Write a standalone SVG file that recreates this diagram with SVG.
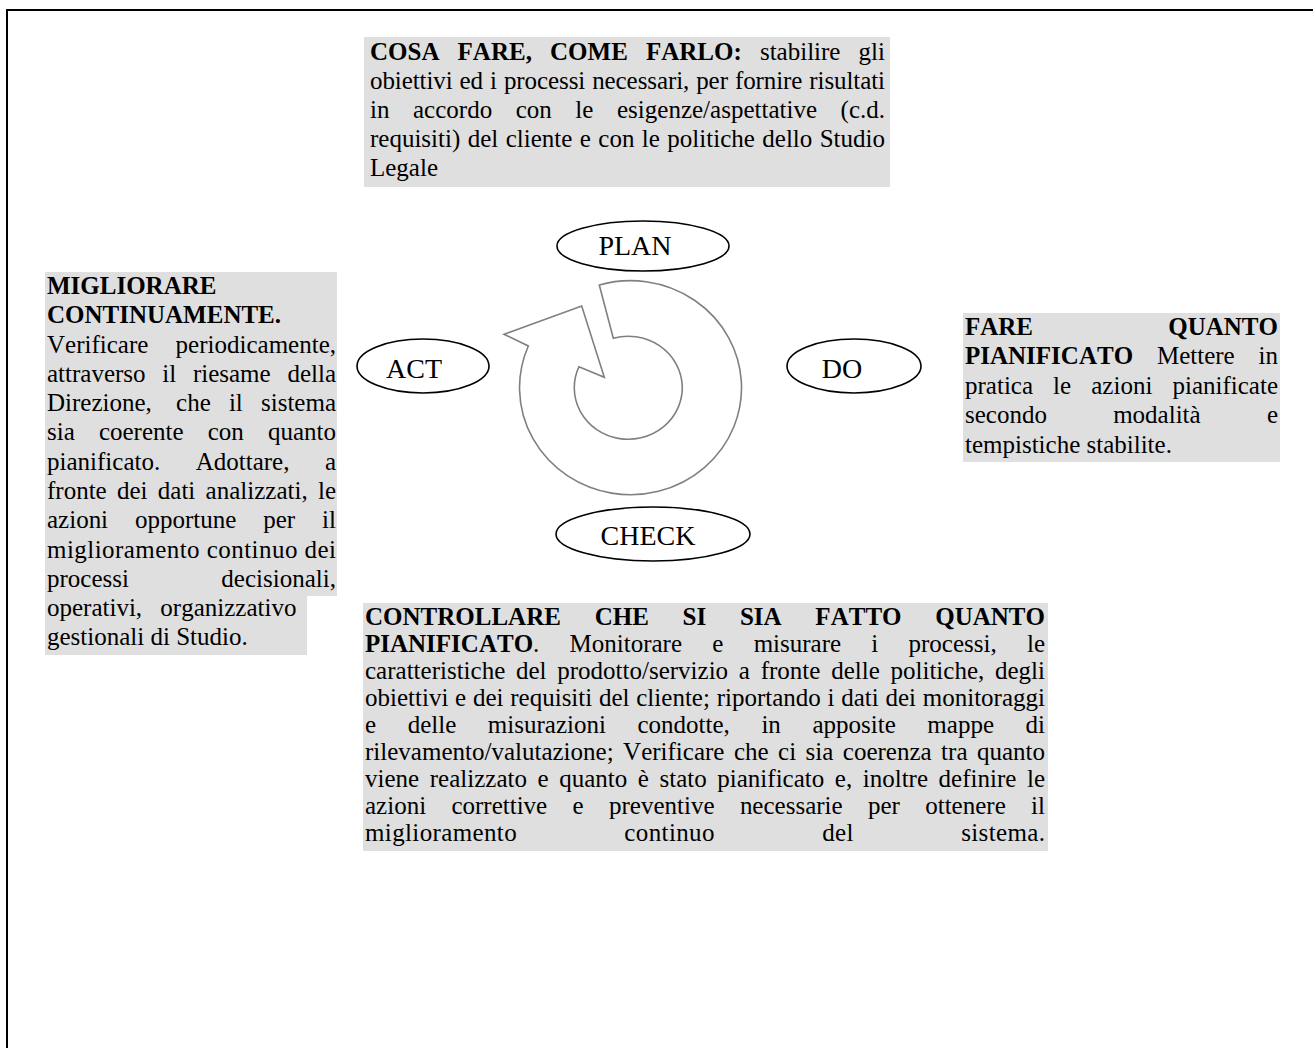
<svg xmlns="http://www.w3.org/2000/svg" width="1313" height="1048" viewBox="0 0 1313 1048">
<style>
.t{font-family:"Liberation Serif","Times New Roman",serif;font-size:25px;fill:#000;font-kerning:none}
.b{font-weight:bold}
.lbl{font-family:"Liberation Serif","Times New Roman",serif;font-size:28px;fill:#000;text-anchor:middle;font-kerning:none}
.box{fill:#dfdfdf;stroke:none}
.ell{fill:#fff;stroke:#000;stroke-width:1.6}
.cyc{fill:#fff;stroke:#808080;stroke-width:1.6;stroke-linejoin:miter}
</style>
<rect width="1313" height="1048" fill="#fff"/>
<path d="M7,1048 V10 H1313" fill="none" stroke="#000" stroke-width="2"/>

<g id="plan-text">
<rect class="box" x="364" y="37" width="526" height="150"/>
<text class="t" x="370" y="60" word-spacing="11.9" textLength="515" lengthAdjust="spacing"><tspan class="b">COSA FARE, COME FARLO:</tspan> stabilire gli</text>
<text class="t" x="370" y="89" word-spacing="0.9" textLength="515" lengthAdjust="spacing">obiettivi ed i processi necessari, per fornire risultati</text>
<text class="t" x="370" y="118" word-spacing="17.3" textLength="515" lengthAdjust="spacing">in accordo con le esigenze/aspettative (c.d.</text>
<text class="t" x="370" y="147" word-spacing="1.2" textLength="515" lengthAdjust="spacing">requisiti) del cliente e con le politiche dello Studio</text>
<text class="t" x="370" y="176">Legale</text>
</g>

<g id="act-text">
<path class="box" d="M45,272 H337 V596 H307 V655 H45 Z"/>
<text class="t b" x="47" y="294">MIGLIORARE</text>
<text class="t b" x="47" y="323">CONTINUAMENTE.</text>
<text class="t" x="47" y="353" word-spacing="21" textLength="289" lengthAdjust="spacing">Verificare periodicamente,</text>
<text class="t" x="47" y="382" word-spacing="10.5" textLength="289" lengthAdjust="spacing">attraverso il riesame della</text>
<text class="t" x="47" y="411" word-spacing="11.9" textLength="289" lengthAdjust="spacing">Direzione, <tspan dx="6">che</tspan> il sistema</text>
<text class="t" x="47" y="440" word-spacing="17.9" textLength="289" lengthAdjust="spacing">sia coerente con quanto</text>
<text class="t" x="47" y="470" word-spacing="29.2" textLength="289" lengthAdjust="spacing">pianificato. Adottare, a</text>
<text class="t" x="47" y="499" word-spacing="4" textLength="289" lengthAdjust="spacing">fronte dei dati analizzati, le</text>
<text class="t" x="47" y="528" word-spacing="20.7" textLength="289" lengthAdjust="spacing">azioni opportune per il</text>
<text class="t" x="47" y="558" textLength="289" lengthAdjust="spacing">miglioramento continuo dei</text>
<text class="t" x="47" y="587" word-spacing="86" textLength="289" lengthAdjust="spacing">processi decisionali,</text>
<text class="t" x="47" y="616" word-spacing="12">operativi, organizzativo</text>
<text class="t" x="47" y="645">gestionali di Studio.</text>
</g>

<g id="do-text">
<rect class="box" x="963" y="313" width="317" height="149"/>
<text class="t b" x="965" y="335" word-spacing="129" textLength="313" lengthAdjust="spacing">FARE QUANTO</text>
<text class="t" x="965" y="364" word-spacing="17.6" textLength="313" lengthAdjust="spacing"><tspan class="b">PIANIFICATO</tspan> Mettere in</text>
<text class="t" x="965" y="394" word-spacing="13.8" textLength="313" lengthAdjust="spacing">pratica le azioni pianificate</text>
<text class="t" x="965" y="423" word-spacing="60" textLength="313" lengthAdjust="spacing">secondo modalità e</text>
<text class="t" x="965" y="453">tempistiche stabilite.</text>
</g>

<g id="check-text">
<rect class="box" x="363" y="603" width="685" height="248"/>
<text class="t b" x="365" y="625" word-spacing="27.5" textLength="680" lengthAdjust="spacing">CONTROLLARE CHE SI SIA FATTO QUANTO</text>
<text class="t" x="365" y="652" word-spacing="24" textLength="680" lengthAdjust="spacing"><tspan class="b">PIANIFICATO</tspan>. Monitorare e misurare i processi, le</text>
<text class="t" x="365" y="679" word-spacing="4.5" textLength="680" lengthAdjust="spacing">caratteristiche del prodotto/servizio a fronte delle politiche, degli</text>
<text class="t" x="365" y="706" word-spacing="0.5" textLength="680" lengthAdjust="spacing">obiettivi e dei requisiti del cliente; riportando i dati dei monitoraggi</text>
<text class="t" x="365" y="733" word-spacing="25.3" textLength="680" lengthAdjust="spacing">e delle misurazioni condotte, in apposite mappe di</text>
<text class="t" x="365" y="760" word-spacing="3.2" textLength="680" lengthAdjust="spacing">rilevamento/valutazione; Verificare che ci sia coerenza tra quanto</text>
<text class="t" x="365" y="787" word-spacing="4.3" textLength="680" lengthAdjust="spacing">viene realizzato e quanto è stato pianificato e, inoltre definire le</text>
<text class="t" x="365" y="814" word-spacing="19.1" textLength="680" lengthAdjust="spacing">azioni correttive e preventive necessarie per ottenere il</text>
<text class="t" x="365" y="841" word-spacing="100.7" textLength="680" lengthAdjust="spacing">miglioramento continuo del sistema.</text>
</g>

<g id="plan">
<ellipse class="ell" cx="643" cy="246" rx="86" ry="25"/>
<text class="lbl" x="635" y="255">PLAN</text>
</g>
<g id="act">
<ellipse class="ell" cx="423" cy="366" rx="66" ry="27"/>
<text class="lbl" x="414" y="378">ACT</text>
</g>
<g id="do">
<ellipse class="ell" cx="854" cy="366" rx="67" ry="27"/>
<text class="lbl" x="842" y="378">DO</text>
</g>
<g id="check">
<ellipse class="ell" cx="653" cy="534" rx="97" ry="27"/>
<text class="lbl" x="648" y="545">CHECK</text>
</g>

<g id="connectors">
<path class="cyc" d="M599.3,285 A111,107 0 1,1 528.3,346 L504,334.3 L581.7,306 L604.3,377.3 L579,366.7 A54,51.5 0 1,0 613.3,338.3 Z"/>
</g>
</svg>
